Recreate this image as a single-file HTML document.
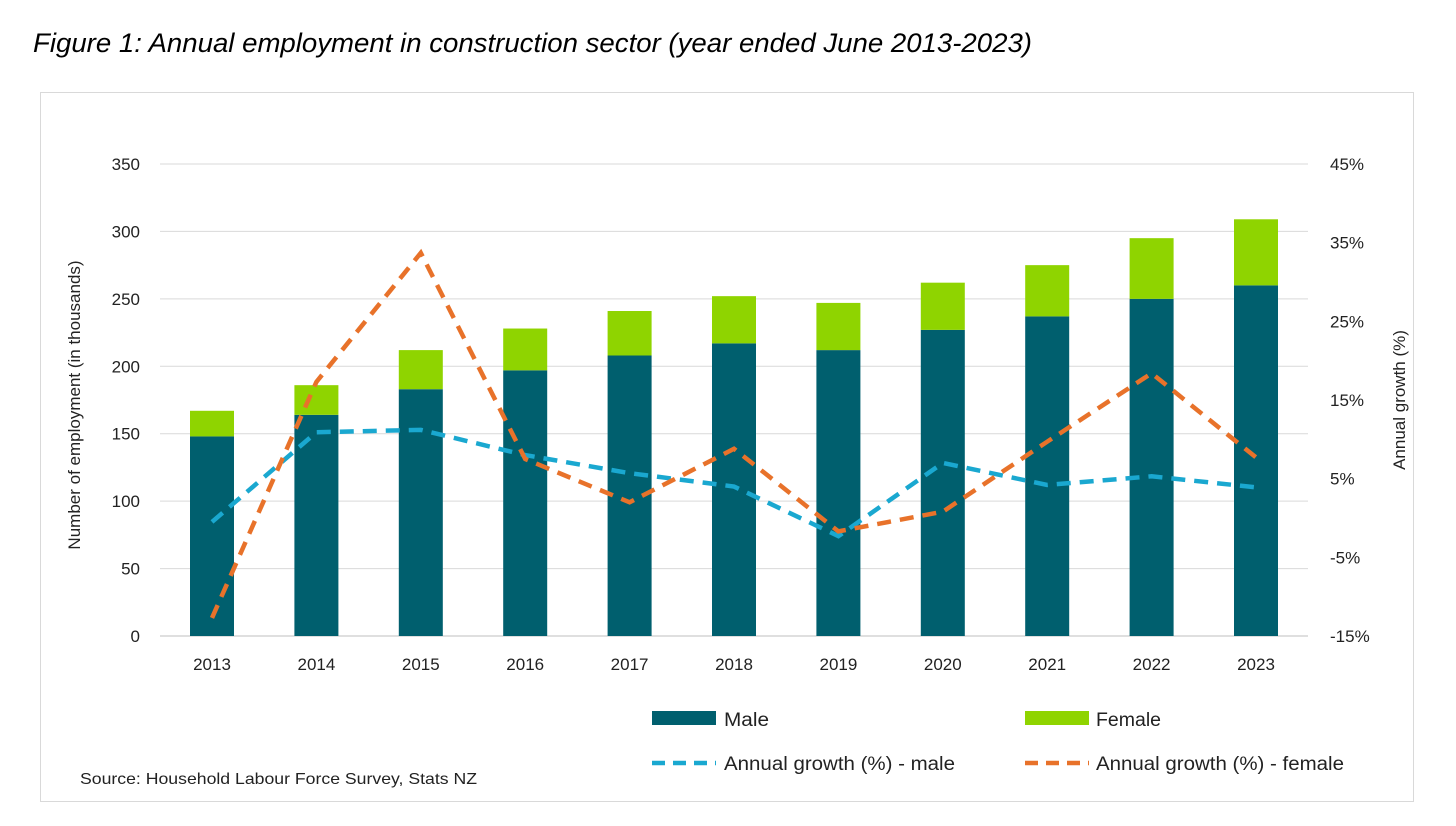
<!DOCTYPE html>
<html><head><meta charset="utf-8"><style>
body{margin:0;background:#fff;font-family:"Liberation Sans",sans-serif;}
#wrap{position:relative;width:1456px;height:826px;overflow:hidden;}
</style></head><body><div id="wrap">
<svg id="chart" width="1456" height="826" xmlns="http://www.w3.org/2000/svg">
<text x="33" y="52" font-size="27" font-style="italic" fill="#000" textLength="999" lengthAdjust="spacingAndGlyphs" font-family="Liberation Sans, sans-serif">Figure 1: Annual employment in construction sector (year ended June 2013-2023)</text>
<rect x="40.5" y="92.5" width="1373" height="709" fill="none" stroke="#d9d9d9"/>
<g id="grid"></g><g id="bars"></g><g id="lines"></g><g id="axes"></g>
<text transform="translate(80,405) rotate(-90)" text-anchor="middle" font-size="17" fill="#222">Number of employment (in thousands)</text>
<text transform="translate(1405,400) rotate(-90)" text-anchor="middle" font-size="17" fill="#222">Annual growth (%)</text>
<g font-size="19" fill="#222">
<rect x="652" y="711" width="64" height="14" fill="#005f6e"/>
<text x="724" y="726" textLength="45" lengthAdjust="spacingAndGlyphs">Male</text>
<rect x="1025" y="711" width="64" height="14" fill="#8fd400"/>
<text x="1096" y="726" textLength="65" lengthAdjust="spacingAndGlyphs">Female</text>
<line x1="652" y1="763" x2="716" y2="763" stroke="#1aa8d0" stroke-width="4.5" stroke-dasharray="13,8"/>
<text x="724" y="770" textLength="231" lengthAdjust="spacingAndGlyphs">Annual growth (%) - male</text>
<line x1="1025" y1="763" x2="1089" y2="763" stroke="#e8722a" stroke-width="4.5" stroke-dasharray="13,8"/>
<text x="1096" y="770" textLength="248" lengthAdjust="spacingAndGlyphs">Annual growth (%) - female</text>
</g>
<text x="80" y="784" font-size="16" fill="#222" textLength="397" lengthAdjust="spacingAndGlyphs">Source: Household Labour Force Survey, Stats NZ</text>
</svg></div>
<script>
const years=["2013","2014","2015","2016","2017","2018","2019","2020","2021","2022","2023"];
const male=[148,164,183,197,208,217,212,227,237,250,260];
const total=[167,186,212,228,241,252,247,262,275,295,309];
const growthMale=[-0.5,10.9,11.2,8,5.7,4,-2.3,7,4.2,5.3,3.9];
const growthFemale=[-12.7,17.3,33.7,7.5,2,8.8,-1.7,0.8,9.7,18.4,7.7];
const leftTicks=[0,50,100,150,200,250,300,350];
const rightTicks=[-15,-5,5,15,25,35,45];
const NS="http://www.w3.org/2000/svg";
const y0=636,yTop=164;
const yL=v=>y0-(v/350)*(y0-yTop);
const yR=v=>y0-((v+15)/60)*(y0-yTop);
const xC=i=>212+i*104.4;
function mk(tag,attrs,parent){const e=document.createElementNS(NS,tag);for(const k in attrs)e.setAttribute(k,attrs[k]);document.getElementById(parent).appendChild(e);return e;}
leftTicks.forEach(t=>{
 const l=mk('line',{x1:160,x2:1308,y1:yL(t),y2:yL(t),stroke:t===0?'#bfbfbf':'#d9d9d9','stroke-width':1},'grid');
 
 
 const tx=mk('text',{x:140,y:yL(t)+6,'text-anchor':'end','font-size':17,fill:'#222'},'axes');tx.textContent=t;
 
 
});
rightTicks.forEach(t=>{
 const tx=mk('text',{x:1330,y:yR(t)+6,'font-size':17,fill:'#222'},'axes');tx.textContent=t+'%';
 
 
});
years.forEach((yr,i)=>{
 const x=xC(i)-22,w=44;
 const m=mk('rect',{x:x,y:yL(male[i]),width:w,height:y0-yL(male[i]),fill:'#005f6e'},'bars');
 
 
 const f=mk('rect',{x:x,y:yL(total[i]),width:w,height:yL(male[i])-yL(total[i]),fill:'#8fd400'},'bars');
 
 
 const tx=mk('text',{x:xC(i),y:670,'text-anchor':'middle','font-size':17,fill:'#222'},'axes');tx.textContent=yr;
 
 
});
function line(vals,color,name){
 const p=mk('polyline',{points:vals.map((v,i)=>xC(i)+','+yR(v)).join(' '),fill:'none',stroke:color,'stroke-width':4.5,'stroke-dasharray':'14,9'},'lines');
 
 
}
line(growthMale,'#1aa8d0','line-growth-male');
line(growthFemale,'#e8722a','line-growth-female');
</script></body></html>
